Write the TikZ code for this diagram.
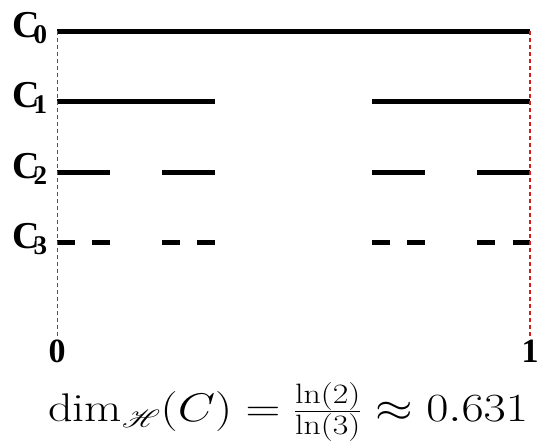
\documentclass[tikz,border=0pt]{standalone}
\usepackage{fix-cm}
\usepackage{fontspec}
\usepackage{mathrsfs}
\usepackage{graphicx}
\newfontfamily\lblfont{Liberation Serif}
\definecolor{guidered}{RGB}{210,30,30}
\begin{document}
\begin{tikzpicture}[x=1pt,y=-1pt,
  seg/.style={line width=5pt},
  guide/.style={draw=guidered, line width=1.1pt, dash pattern=on 4pt off 3pt},
  lbl/.style={font=\lblfont\bfseries\fontsize{38}{38}\selectfont, inner sep=0pt, anchor=base west},
  endlbl/.style={font=\lblfont\bfseries\fontsize{34}{34}\selectfont, inner sep=0pt, anchor=base}]
\useasboundingbox (0,0) rectangle (537,442);
\coordinate (L) at (57.3,31);
\coordinate (Lb) at (57.3,338);
\coordinate (R) at (530,31);
\coordinate (Rb) at (530,338);
% level 0
\draw[seg] (57,31) -- (530,31);
% level 1
\foreach \a/\b in {57/214.7, 372.3/530} \draw[seg] (\a,101) -- (\b,101);
% level 2
\foreach \a/\b in {57/109.6, 162.2/214.7, 372.3/424.9, 477.4/530} \draw[seg] (\a,172) -- (\b,172);
% level 3
\foreach \a/\b in {57/74.5, 92.1/109.6, 162.2/179.7, 197.2/214.7, 372.3/389.8, 407.3/424.9, 477.4/494.9, 512.5/530} \draw[seg] (\a,242) -- (\b,242);
% guides
\draw[guide] (L) -- (Lb);
\draw[guide] (R) -- (Rb);
% labels
\foreach \k/\y in {0/31,1/101,2/172,3/242}
  \node[lbl] (c\k) at (12,\y+6) {C\kern-0.16em\raisebox{-0.16em}{\fontsize{27}{27}\selectfont\k}};
\node[endlbl] (zero) at (57,362) {0};
\node[endlbl] (one) at (530,362) {1};
\node[inner sep=0pt, anchor=base, font=\fontsize{40}{40}\selectfont] (dim) at (288,421)
  {\resizebox{480pt}{\height}{$\dim_{\mathscr{H}}(C)=\frac{\ln(2)}{\ln(3)}\approx 0.631$}};
\end{tikzpicture}
\end{document}
